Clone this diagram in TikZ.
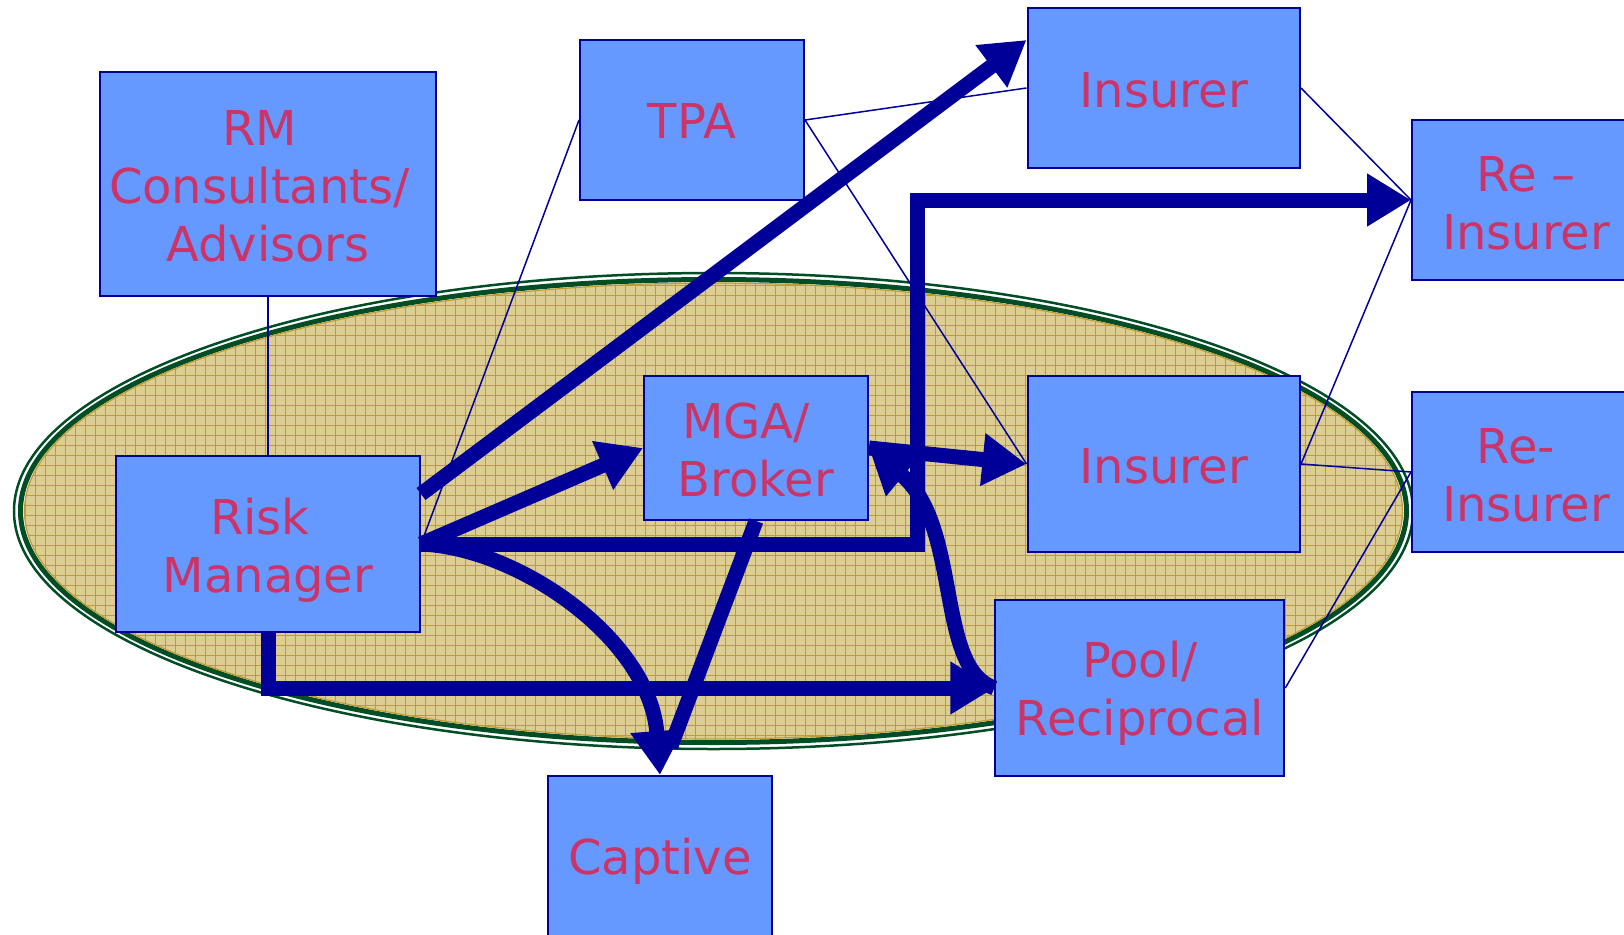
\documentclass[tikz,border=0pt]{standalone}
\usepackage{fontspec}
\setmainfont{DejaVu Sans}
\usetikzlibrary{arrows.meta,calc}
\definecolor{boxfill}{RGB}{102,153,255}
\definecolor{boxline}{RGB}{0,0,153}
\definecolor{txt}{RGB}{204,51,102}
\definecolor{arrowc}{RGB}{0,0,153}
\definecolor{ringgreen}{RGB}{0,77,38}
\definecolor{tanfill}{RGB}{220,205,146}
\definecolor{gridc}{RGB}{190,156,50}
\tikzset{
  box/.style={draw=boxline, line width=2pt, fill=boxfill, inner sep=0pt},
  boxtxt/.style={text=txt, align=center, inner sep=0pt, font=\fontsize{48}{58}\selectfont},
  thinlink/.style={draw=boxline, line width=1.5pt},
  biglink/.style={draw=arrowc, line width=15pt, line join=miter},
  bighead/.style={biglink, -{Triangle[length=44pt,width=50pt]}},
  gridline/.style={draw=gridc, line width=0.8pt}
}
\begin{document}
\begin{tikzpicture}[x=1pt,y=-1pt]
\useasboundingbox (0,0) rectangle (1624,934);
\fill[white] (0,0) rectangle (1624,934);
% ellipse with rings and grid
\draw[ringgreen, line width=2.5pt] (713.5,511) ellipse (699.5 and 238);
\draw[ringgreen, line width=5pt] (713.5,511) ellipse (693 and 231.5);
\begin{scope}
  \clip (713.5,511) ellipse (689.5 and 228.5);
  \fill[tanfill] (0,250) rectangle (1430,780);
  \foreach \gx in {15,25,...,1425} \draw[gridline] (\gx,270) -- (\gx,760);
  \foreach \gy in {275,285,...,755} \draw[gridline] (10,\gy) -- (1420,\gy);
\end{scope}
\draw[gridc, line width=1.2pt] (713.5,511) ellipse (689 and 228);

% boxes
\node[box, minimum width=336.5pt, minimum height=223.5pt,
  label={[boxtxt, name=rmc-t, yshift=-2pt]center:{RM\hspace*{16pt}\\\makebox[318pt][l]{Consultants/}\\Advisors}}] (rmc) at (268,184) {};
\node[box, minimum width=224pt, minimum height=160pt,
  label={[boxtxt, name=tpa-t, yshift=-1pt]center:TPA}] (tpa) at (692,120) {};
\node[box, minimum width=272.5pt, minimum height=160pt,
  label={[boxtxt, name=ins1-t, yshift=-2pt]center:Insurer}] (ins1) at (1163.75,88) {};
\node[box, minimum width=228pt, minimum height=160pt,
  label={[boxtxt, name=reins1-t, yshift=-3pt]center:{Re –\\Insurer}}] (reins1) at (1526,200) {};
\node[box, minimum width=224pt, minimum height=144pt,
  label={[boxtxt, name=mga-t, yshift=-2pt]center:{MGA/\hspace*{20pt}\\Broker}}] (mga) at (756,448) {};
\node[box, minimum width=272.5pt, minimum height=176pt,
  label={[boxtxt, name=ins2-t, yshift=-2pt]center:Insurer}] (ins2) at (1163.75,464) {};
\node[box, minimum width=228pt, minimum height=160.5pt,
  label={[boxtxt, name=reins2-t, yshift=-3pt]center:{Re-\hspace*{20pt}\\Insurer}}] (reins2) at (1526,472) {};
\node[box, minimum width=304pt, minimum height=176pt,
  label={[boxtxt, name=rm-t, yshift=-6pt]center:{Risk\hspace*{16pt}\\Manager}}] (rm) at (268,544) {};
\node[box, minimum width=289pt, minimum height=176pt,
  label={[boxtxt, name=pool-t, yshift=-5pt]center:{Pool/\\Reciprocal}}] (pool) at (1139.8,688) {};
\node[box, minimum width=223.6pt, minimum height=164pt,
  label={[boxtxt, name=captive-t, yshift=-3pt]center:Captive}] (captive) at (660,858) {};

% thin connectors
\draw[thinlink] (rmc.south) -- (rm.north);
\draw[thinlink] (tpa.west) -- (rm.east);
\draw[thinlink] (tpa.east) -- (ins1.west);
\draw[thinlink] (tpa.east) -- (ins2.west);
\draw[thinlink] (ins1.east) -- (reins1.west);
\draw[thinlink] (ins2.east) -- (reins1.west);
\draw[thinlink] (ins2.east) -- (reins2.west);
\draw[thinlink] (pool.east) -- (reins2.west);

% thick arrows
\draw[bighead] ($(rm.east)+(0,-50)$) -- ($(ins1.north west)+(0,33)$);
\draw[bighead] (rm.east) -- (mga.west);
\draw[bighead] (rm.east) -- ++(496,0) |- (reins1.west);
\draw[biglink, shorten >=30pt] (mga.south) -- (captive.north);
\draw[bighead] (rm.east) .. controls (520,548) and (650,640) .. (captive.north);
\draw[bighead] (rm.south) |- (pool.west);
\draw[bighead] (mga.east) -- (ins2.west);
\draw[bighead] (pool.west) .. controls (935,668) and (962,525) .. (mga.east);
\end{tikzpicture}
\end{document}
